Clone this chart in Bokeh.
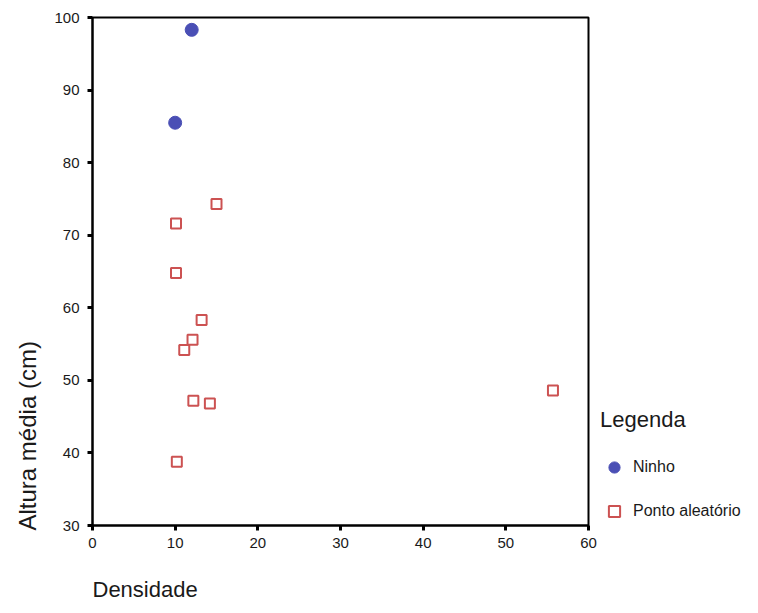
from bokeh.plotting import figure
from bokeh.models import (Range1d, FixedTicker, Legend, LegendItem, Title, ColumnDataSource)
from bokeh.embed import file_html
from bokeh.resources import INLINE

# Data
ninho_densidade = [12.0, 10.0]
ninho_altura = [98.3, 85.5]

ponto_densidade = [15.0, 10.1, 10.1, 13.2, 12.1, 11.1, 12.2, 14.2, 10.2, 55.7]
ponto_altura = [74.3, 71.6, 64.8, 58.3, 55.6, 54.2, 47.2, 46.8, 38.8, 48.6]

x_ticks = [0, 10, 20, 30, 40, 50, 60]
y_ticks = [30, 40, 50, 60, 70, 80, 90, 100]

FONT = "Liberation Sans"
TXT = "#1a1a1a"

FW, FH = 496, 508
p = figure(frame_width=FW, frame_height=FH, output_backend="svg", toolbar_location=None,
           x_range=Range1d(0, 60), y_range=Range1d(30, 100),
           min_border_left=91, min_border_right=171, min_border_top=17, min_border_bottom=88)

p.grid.visible = False
p.outline_line_color = "black"
p.outline_line_width = 2
p.background_fill_color = "white"
p.border_fill_color = "white"

for ax, ticks in ((p.xaxis[0], x_ticks), (p.yaxis[0], y_ticks)):
    ax.ticker = FixedTicker(ticks=ticks)
    ax.axis_line_color = "black"
    ax.axis_line_width = 2
    ax.major_tick_line_color = "black"
    ax.major_tick_line_width = 3
    ax.major_tick_out = 5
    ax.major_tick_in = 0
    ax.minor_tick_line_color = None
    ax.major_label_text_font = FONT
    ax.major_label_text_font_size = "15px"
    ax.major_label_text_color = TXT
p.xaxis[0].major_label_standoff = 7
p.yaxis[0].major_label_standoff = 8

src_n = ColumnDataSource(dict(x=ninho_densidade, y=ninho_altura))
src_p = ColumnDataSource(dict(x=ponto_densidade, y=ponto_altura))

r_n = p.scatter("x", "y", source=src_n, marker="circle", size=13,
                fill_color="#4a4fb5", line_color="#4a4fb5", line_width=1)
r_p = p.scatter("x", "y", source=src_p, marker="square", size=10,
                fill_color="white", line_color="#cc5252", line_width=2)

legend = Legend(items=[LegendItem(label="Ninho", renderers=[r_n]),
                       LegendItem(label="Ponto aleatório", renderers=[r_p])],
                location=(12, 0), title="Legenda",
                title_text_font=FONT, title_text_font_size="22px",
                title_text_font_style="normal", title_text_color=TXT,
                title_standoff=20,
                label_text_font=FONT, label_text_font_size="16px", label_text_color=TXT,
                glyph_width=28, glyph_height=28, label_height=20, label_standoff=5,
                spacing=16, padding=0, margin=0,
                border_line_color=None, background_fill_alpha=0)
p.add_layout(legend, "right")

p.add_layout(Title(text="Densidade", align="left", text_font=FONT, text_font_size="22px",
                   text_font_style="normal", text_color=TXT, standoff=48,
                   text_line_height=0.7), "below")
p.add_layout(Title(text="Altura média (cm)", align="left", text_font=FONT, text_font_size="24px",
                   text_font_style="normal", text_color=TXT, standoff=22, offset=-5), "left")

open("out.html", "w").write(file_html(p, INLINE))
